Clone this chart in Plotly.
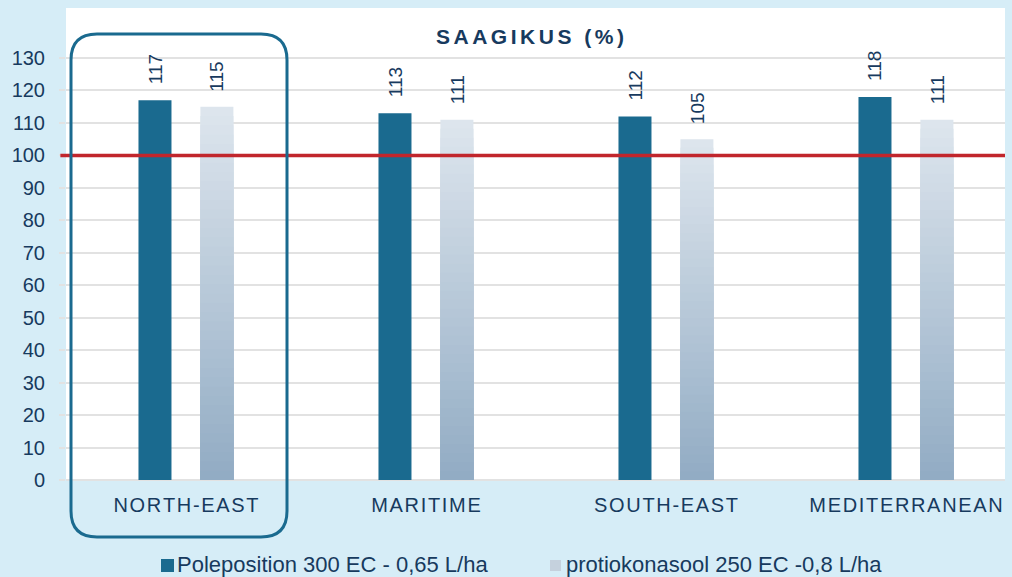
import plotly.graph_objects as go

categories = ["NORTH-EAST", "MARITIME", "SOUTH-EAST", "MEDITERRANEAN"]
series_names = ["Poleposition 300 EC - 0,65 L/ha", "protiokonasool 250 EC -0,8 L/ha"]
pole_values = [117, 113, 112, 118]
prot_values = [115, 111, 105, 111]
y_ticks = list(range(0, 131, 10))
title_text = "SAAGIKUS (%)"
reference_level = 100

DARK = "#1a6a8f"
NAVY = "#173a5e"
BG = "#d6edf7"
GRID = "#e2e2e2"
RED = "#c1262c"
LIGHT_KEY = "#c5d1dd"
FONT = "Liberation Sans, Arial"

PW, PH = 939, 472  # plot area size in px

def spaced(s, sep="\u200a"):
    return sep.join(list(s))

fig = go.Figure()

# dark bars
fig.add_trace(go.Bar(x=categories, y=pole_values, name=series_names[0],
                     marker=dict(color=DARK, line=dict(width=0)),
                     width=0.1375, offset=-0.198, showlegend=False))

# light bars with vertical gradient (overlapping layers, tallest first)
N = 40
top = (221, 229, 237)
bot = (146, 172, 196)
for k in range(N):
    t = k / (N - 1)
    c = tuple(round(top[i] + (bot[i] - top[i]) * t) for i in range(3))
    fig.add_trace(go.Bar(x=categories, y=[v * (N - k) / N for v in prot_values],
                         name=series_names[1],
                         marker=dict(color="rgb(%d,%d,%d)" % c, line=dict(width=0)),
                         width=0.1375, offset=0.060, showlegend=False, hoverinfo="skip"))

annotations = []
for cat, v in zip(categories, pole_values):
    annotations.append(dict(x=cat, y=v, xref="x", yref="y", text=str(v), textangle=-90,
                            showarrow=False, xshift=-31, yshift=14, yanchor="bottom",
                            font=dict(size=19, color=NAVY, family=FONT)))
for cat, v in zip(categories, prot_values):
    annotations.append(dict(x=cat, y=v, xref="x", yref="y", text=str(v), textangle=-90,
                            showarrow=False, xshift=31, yshift=13, yanchor="bottom",
                            font=dict(size=19, color=NAVY, family=FONT)))

# title
annotations.append(dict(x=(530 - 66) / PW, y=(480 - 37) / PH, xref="paper", yref="paper",
                        text="<b>" + spaced(title_text, "\u200a\u200a") + "</b>", showarrow=False,
                        xanchor="center", yanchor="middle",
                        font=dict(size=21, color=NAVY, family=FONT)))

# legend (manual)
leg_y = (480 - 564) / PH
annotations.append(dict(x=(176 - 66) / PW, y=leg_y, xref="paper", yref="paper",
                        text=series_names[0], showarrow=False, xanchor="left", yanchor="middle",
                        borderpad=0, font=dict(size=22, color=NAVY, family=FONT)))
annotations.append(dict(x=(565 - 66) / PW, y=leg_y, xref="paper", yref="paper",
                        text=series_names[1], showarrow=False, xanchor="left", yanchor="middle",
                        borderpad=0, font=dict(size=22, color=NAVY, family=FONT)))

# rounded rectangle around first group
x0, x1 = 5 / PW, 221 / PW
y0, y1 = -57 / PH, 446 / PH
rx, ry = 26 / PW, 26 / PH
path = (f"M {x0+rx},{y1} L {x1-rx},{y1} Q {x1},{y1} {x1},{y1-ry} "
        f"L {x1},{y0+ry} Q {x1},{y0} {x1-rx},{y0} L {x0+rx},{y0} "
        f"Q {x0},{y0} {x0},{y0+ry} L {x0},{y1-ry} Q {x0},{y1} {x0+rx},{y1} Z")

def px_rect(xl, yt, w, h, color):
    return dict(type="rect", xref="paper", yref="paper",
                x0=(xl - 66) / PW, x1=(xl + w - 66) / PW,
                y0=(480 - yt - h) / PH, y1=(480 - yt) / PH,
                fillcolor=color, line=dict(width=0), layer="above")

shapes = [
    dict(type="line", xref="paper", yref="y", x0=-0.006, x1=1.0, y0=reference_level, y1=reference_level,
         line=dict(color=RED, width=3.5), layer="above"),
    dict(type="path", xref="paper", yref="paper", path=path,
         line=dict(color=DARK, width=3), layer="above"),
    px_rect(161, 559, 13, 13, DARK),
    px_rect(550, 560, 11, 11, LIGHT_KEY),
]

fig.update_layout(
    width=1012, height=577,
    margin=dict(l=66, r=7, t=8, b=97, autoexpand=False),
    paper_bgcolor=BG, plot_bgcolor="white",
    barmode="overlay",
    showlegend=False,
    annotations=annotations,
    shapes=shapes,
    font=dict(family=FONT, color=NAVY),
)
fig.update_xaxes(type="category", range=[-0.5, 3.4125], showgrid=False, zeroline=False,
                 showline=False, ticks="", ticklabelstandoff=11, automargin=False,
                 tickvals=categories, ticktext=[spaced(c, "\u200a") for c in categories],
                 tickfont=dict(size=20, color=NAVY), fixedrange=True)
fig.update_yaxes(range=[0, 145.4], tickvals=y_ticks, showgrid=True, gridcolor=GRID, gridwidth=2,
                 zeroline=True, zerolinecolor=GRID, zerolinewidth=2, automargin=False,
                 ticks="outside", ticklen=6, tickwidth=2, tickcolor=GRID,
                 ticklabelstandoff=10, tickfont=dict(size=20, color=NAVY), showline=False)

fig.write_html("out.html", config={"displayModeBar": False},
               post_script="document.body.style.margin='0';document.body.style.overflow='hidden';")
